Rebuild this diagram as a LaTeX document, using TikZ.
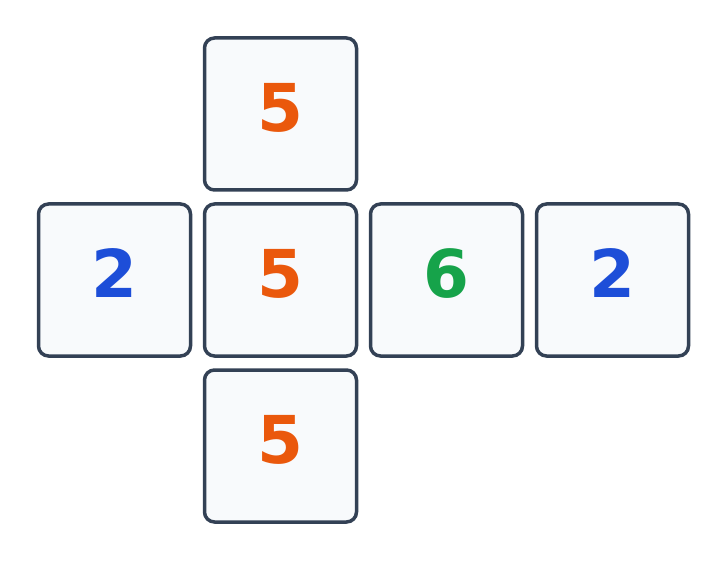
\documentclass[tikz,border=0pt]{standalone}
\usepackage{fontspec}
\setmainfont{DejaVu Sans}
\definecolor{strokec}{HTML}{334155}
\definecolor{fillc}{HTML}{F8FAFC}
\definecolor{orangec}{HTML}{EA580C}
\definecolor{bluec}{HTML}{1D4ED8}
\definecolor{greenc}{HTML}{16A34A}
\tikzset{
  face/.style={draw=strokec, fill=fillc, line width=3.5pt, rounded corners=10pt,
    minimum width=152pt, minimum height=152pt, inner sep=0pt, outer sep=0pt},
  digit/.style={font=\fontsize{66}{66}\bfseries\selectfont, inner sep=0pt},
}
\begin{document}
\begin{tikzpicture}[x=1pt,y=-1pt]
\useasboundingbox (0,0) rectangle (727,561);
\node[face] (top) at (280.5,114) {};
\node[face] (left) at (114.5,280) {};
\node[face] (mid) at (280.5,280) {};
\node[face] (right) at (446.5,280) {};
\node[face] (far) at (612.5,280) {};
\node[face] (bot) at (280.5,446) {};
\node[digit, text=orangec] (ttop) at ([yshift=6.5pt]top.center) {5};
\node[digit, text=bluec] (tleft) at ([yshift=6.5pt]left.center) {2};
\node[digit, text=orangec] (tmid) at ([yshift=6.5pt]mid.center) {5};
\node[digit, text=greenc] (tright) at ([yshift=6.5pt]right.center) {6};
\node[digit, text=bluec] (tfar) at ([yshift=6.5pt]far.center) {2};
\node[digit, text=orangec] (tbot) at ([yshift=6.5pt]bot.center) {5};
\end{tikzpicture}
\end{document}
